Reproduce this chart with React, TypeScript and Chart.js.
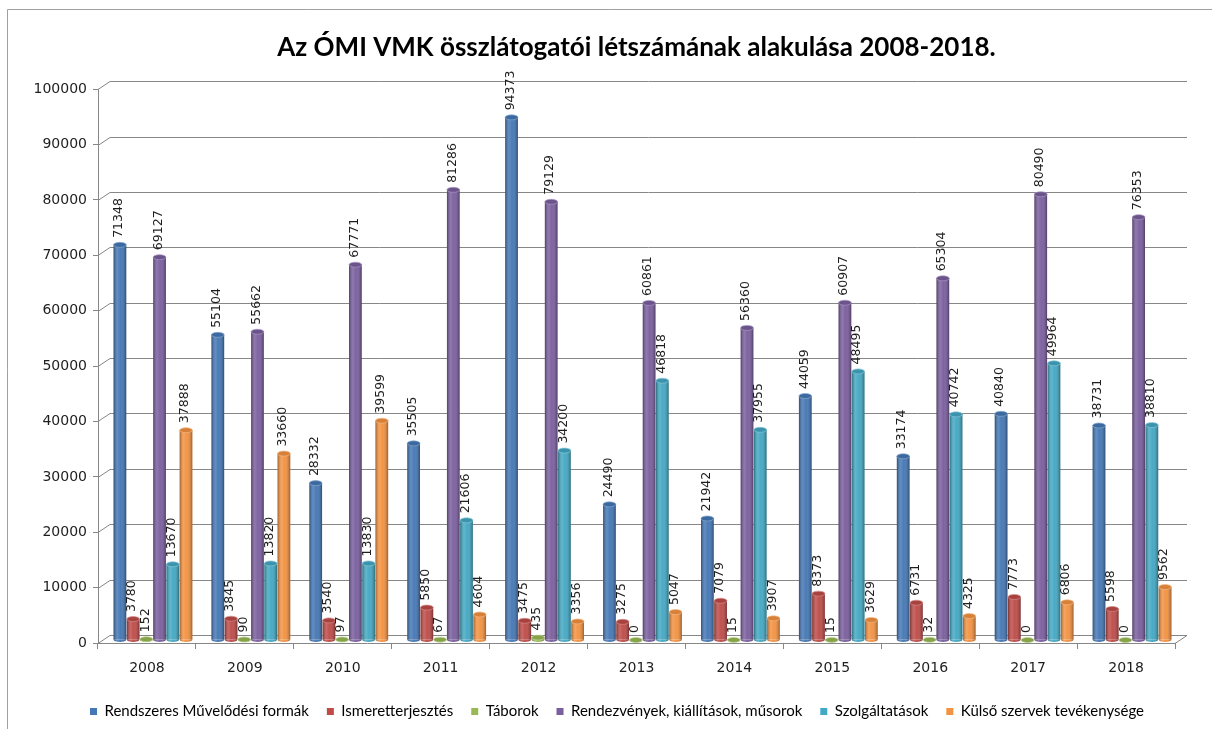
import React, { useEffect, useRef } from 'react';
import { Chart, registerables } from 'chart.js';

Chart.register(...registerables);

const TITLE = 'Az ÓMI VMK összlátogatói létszámának alakulása 2008-2018.';

const categories = ['2008', '2009', '2010', '2011', '2012', '2013', '2014', '2015', '2016', '2017', '2018'];

const seriesNames = [
  'Rendszeres Művelődési formák',
  'Ismeretterjesztés',
  'Táborok',
  'Rendezvények, kiállítások, műsorok',
  'Szolgáltatások',
  'Külső szervek tevékenysége',
];

const rendszeres = [71348, 55104, 28332, 35505, 94373, 24490, 21942, 44059, 33174, 40840, 38731];
const ismeretterjesztes = [3780, 3845, 3540, 5850, 3475, 3275, 7079, 8373, 6731, 7773, 5598];
const taborok = [152, 90, 97, 67, 435, 0, 15, 15, 32, 0, 0];
const rendezvenyek = [69127, 55662, 67771, 81286, 79129, 60861, 56360, 60907, 65304, 80490, 76353];
const szolgaltatasok = [13670, 13820, 13830, 21606, 34200, 46818, 37955, 48495, 40742, 49964, 38810];
const kulso = [37888, 33660, 39599, 4604, 3356, 5047, 3907, 3629, 4325, 6806, 9562];

const seriesValues = [rendszeres, ismeretterjesztes, taborok, rendezvenyek, szolgaltatasok, kulso];
const seriesColors = ['#4477B5', '#BE4B48', '#98B954', '#7A5E9E', '#43A8C3', '#F39241'];

const Y_MIN = 0;
const Y_MAX = 100000;
const Y_STEP = 10000;

const DX = 12;
const DY = 8;

const AXIS_FONT = { family: '"DejaVu Sans", Verdana, sans-serif', size: 14 };
const LABEL_FONT = '12.5px "DejaVu Sans", Verdana, sans-serif';

function shade(hex: string, f: number): string {
  const n = parseInt(hex.slice(1), 16);
  let r = (n >> 16) & 255, g = (n >> 8) & 255, b = n & 255;
  if (f < 0) {
    r = Math.round(r * (1 + f)); g = Math.round(g * (1 + f)); b = Math.round(b * (1 + f));
  } else {
    r = Math.round(r + (255 - r) * f); g = Math.round(g + (255 - g) * f); b = Math.round(b + (255 - b) * f);
  }
  return `rgb(${r},${g},${b})`;
}

const framePlugin = {
  id: 'frame',
  beforeDraw(chart: any) {
    const { ctx, width, height } = chart;
    ctx.save();
    ctx.fillStyle = '#ffffff';
    ctx.fillRect(0, 0, width, height);
    ctx.strokeStyle = '#a0a0a0';
    ctx.lineWidth = 1;
    ctx.beginPath();
    ctx.moveTo(7.5, height);
    ctx.lineTo(7.5, 9.5);
    ctx.lineTo(width, 9.5);
    ctx.stroke();
    ctx.restore();
  },
};

// centre the legend row the way the reference does
const legendShiftPlugin = {
  id: 'legendShift',
  afterLayout(chart: any) {
    const lg = chart.legend;
    if (!lg) return;
    const shift = 617 - (lg.left + lg.right) / 2;
    lg.left += shift;
    lg.right += shift;
  },
};

const cylinderPlugin = {
  id: 'cylinders',
  beforeDatasetsDraw(chart: any) {
    const { ctx, chartArea, scales } = chart;
    const { left, right, bottom } = chartArea;
    const y = scales.y;
    ctx.save();
    ctx.strokeStyle = '#878787';
    ctx.lineWidth = 1;
    y.ticks.forEach((t: any) => {
      const py = Math.round(y.getPixelForValue(t.value)) + 0.5;
      ctx.beginPath();
      ctx.moveTo(left, py);
      ctx.lineTo(left + DX, py - DY);
      ctx.lineTo(right + DX, py - DY);
      ctx.stroke();
    });
    const pb = Math.round(bottom) + 0.5;
    ctx.beginPath();
    ctx.moveTo(right, pb);
    ctx.lineTo(right + DX, pb - DY);
    ctx.stroke();
    ctx.restore();

    ctx.save();
    ctx.translate(DX / 2, -DY / 2 + 1);
  },
  afterDatasetsDraw(chart: any) {
    const { ctx } = chart;
    chart.data.datasets.forEach((ds: any, di: number) => {
      const meta = chart.getDatasetMeta(di);
      const color = seriesColors[di];
      meta.data.forEach((el: any) => {
        const { x, y, base, width } = el.getProps(['x', 'y', 'base', 'width'], true);
        const l = x - width / 2;
        const ry = 2.5;
        const grad = ctx.createLinearGradient(l, 0, l + width, 0);
        grad.addColorStop(0, 'rgba(0,0,0,0.35)');
        grad.addColorStop(0.3, 'rgba(255,255,255,0.16)');
        grad.addColorStop(0.55, 'rgba(255,255,255,0.03)');
        grad.addColorStop(1, 'rgba(0,0,0,0.35)');
        ctx.beginPath();
        ctx.ellipse(x, base, width / 2, ry, 0, 0, Math.PI);
        ctx.fillStyle = color;
        ctx.fill();
        ctx.fillStyle = grad;
        ctx.fill();
        if (base - y > 0) {
          ctx.fillStyle = grad;
          ctx.fillRect(l, y, width, base - y);
        }
        ctx.beginPath();
        ctx.ellipse(x, y, width / 2, ry, 0, 0, Math.PI * 2);
        ctx.fillStyle = shade(color, -0.12);
        ctx.fill();
        ctx.strokeStyle = shade(color, 0.35);
        ctx.lineWidth = 0.7;
        ctx.stroke();
      });
    });
    ctx.fillStyle = '#1e1e1e';
    ctx.font = LABEL_FONT;
    ctx.textAlign = 'left';
    ctx.textBaseline = 'middle';
    chart.data.datasets.forEach((ds: any, di: number) => {
      const meta = chart.getDatasetMeta(di);
      meta.data.forEach((el: any, i: number) => {
        const { x, y } = el.getProps(['x', 'y'], true);
        ctx.save();
        ctx.translate(x - 1, y - 7);
        ctx.rotate(-Math.PI / 2);
        ctx.fillText(String(ds.data[i]), 0, 0);
        ctx.restore();
      });
    });
    ctx.restore();
  },
};

export default function App() {
  const canvasRef = useRef<HTMLCanvasElement | null>(null);

  useEffect(() => {
    document.body.style.margin = '0';
    const canvas = canvasRef.current;
    if (!canvas) return;
    const chart = new Chart(canvas, {
      type: 'bar',
      data: {
        labels: categories,
        datasets: seriesValues.map((vals, i) => ({
          label: seriesNames[i],
          data: vals,
          backgroundColor: seriesColors[i],
          borderWidth: 0,
          categoryPercentage: 0.81,
          barPercentage: 0.96,
        })),
      },
      options: {
        responsive: false,
        animation: false,
        devicePixelRatio: 1,
        layout: { padding: { left: 0, right: 37, top: 0, bottom: 0 } },
        plugins: {
          title: {
            display: true,
            text: TITLE,
            fullSize: false,
            color: '#000000',
            font: { family: 'Lato, "Open Sans", sans-serif', size: 26, weight: 'bold' },
            padding: { top: 32, bottom: 26 },
          },
          legend: {
            position: 'bottom',
            labels: {
              boxWidth: 7,
              boxHeight: 7,
              padding: 18,
              color: '#000000',
              font: { family: 'Lato, "Open Sans", sans-serif', size: 15 },
            },
          },
          tooltip: { enabled: false },
        },
        scales: {
          x: {
            grid: { drawOnChartArea: false, tickLength: 6, color: '#878787', offset: true },
            border: { color: '#878787' },
            ticks: { font: AXIS_FONT, color: '#1e1e1e', padding: 11 },
            afterFit: (s: any) => { s.height = 43; },
          },
          y: {
            min: Y_MIN,
            max: Y_MAX,
            grid: { drawOnChartArea: false, tickLength: 5, color: '#878787' },
            border: { color: '#878787' },
            ticks: {
              stepSize: Y_STEP,
              font: AXIS_FONT,
              color: '#1e1e1e',
              padding: 6,
              callback: (v: any) => String(v),
            },
            afterFit: (s: any) => { s.width = 98; },
          },
        },
      },
      plugins: [framePlugin, legendShiftPlugin, cylinderPlugin],
    } as any);
    return () => chart.destroy();
  }, []);

  return (
    <div style={{ width: 1212, height: 729 }}>
      <canvas ref={canvasRef} width={1212} height={729} />
    </div>
  );
}
